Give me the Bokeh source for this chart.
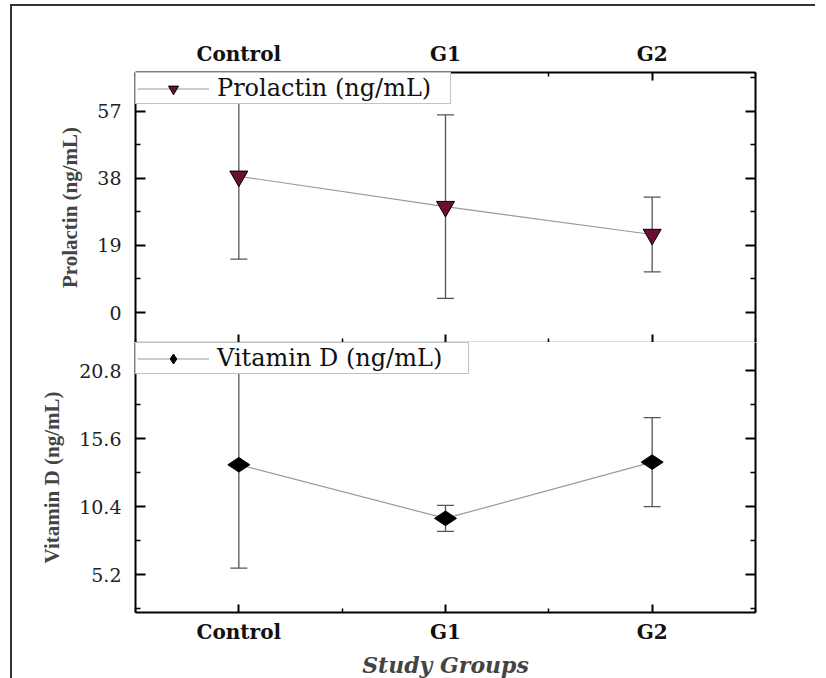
import numpy as np
from bokeh.plotting import figure
from bokeh.models import (ColumnDataSource, FixedTicker, LinearAxis, Range1d,
                          Whisker, TeeHead, Legend, LegendItem)
from bokeh.layouts import column
from bokeh.embed import file_html
from bokeh.resources import INLINE

# ---- data ----
groups = ["Control", "G1", "G2"]
prolactin_mean = [38.6, 30.0, 22.1]
prolactin_sd = [23.5, 26.0, 10.6]
vitd_mean = [13.6, 9.5, 13.8]
vitd_sd = [7.9, 1.0, 3.4]

prl_ticks = [0, 19, 38, 57]
prl_minor = [9.5, 28.5, 47.5, 66.5]
vd_ticks = [5.2, 10.4, 15.6, 20.8]
vd_minor = [2.6, 7.8, 13.0, 18.2]

xpos = list(range(len(groups)))
x_minor = [-0.5, 0.5, 1.5, 2.5]
x_labels = {i: g for i, g in enumerate(groups)}

SERIF = "DejaVu Serif"
TIMES = "Liberation Serif"


def style_axis(ax, line_color="black", line_width=2):
    ax.axis_line_color = line_color
    ax.axis_line_width = line_width
    ax.major_tick_in = 10
    ax.major_tick_out = 0
    ax.minor_tick_in = 5
    ax.minor_tick_out = 0
    ax.major_tick_line_color = "black"
    ax.major_tick_line_width = 2
    ax.minor_tick_line_color = "black"
    ax.minor_tick_line_width = 1.5


def hide_labels(ax, ticks):
    ax.major_label_overrides = {t: "" for t in ticks}
    ax.major_label_text_font_size = "1px"
    ax.major_label_standoff = 0
    ax.axis_label = None


def make_fig(y_start, y_end, top_border, bottom_border):
    p = figure(frame_width=620, frame_height=270,
               x_range=Range1d(-0.5, 2.5), y_range=Range1d(y_start, y_end),
               x_axis_location=None, y_axis_location=None,
               output_backend="svg", toolbar_location=None,
               min_border_left=123, min_border_right=60,
               min_border_top=top_border, min_border_bottom=bottom_border,
               outline_line_color=None, background_fill_color="white",
               border_fill_color="white")
    p.grid.visible = False
    return p


def y_axes(p, ticks, minor, label):
    left = LinearAxis(ticker=FixedTicker(ticks=ticks, minor_ticks=minor))
    style_axis(left)
    left.major_label_text_font = SERIF
    left.major_label_text_font_size = "19px"
    left.major_label_text_color = "#222"
    left.major_label_standoff = 14
    left.axis_label = label
    left.axis_label_text_font = TIMES
    left.axis_label_text_font_style = "bold"
    left.axis_label_text_font_size = "21px"
    left.axis_label_standoff = 12
    p.add_layout(left, "left")
    right = LinearAxis(ticker=FixedTicker(ticks=ticks, minor_ticks=minor))
    style_axis(right)
    hide_labels(right, ticks)
    p.add_layout(right, "right")


def x_axis(labels_visible, line_color="black", line_width=2):
    ax = LinearAxis(ticker=FixedTicker(ticks=xpos, minor_ticks=x_minor))
    style_axis(ax, line_color, line_width)
    ax.minor_tick_in = 4
    ax.major_tick_in = 8
    if labels_visible:
        ax.major_label_overrides = x_labels
        ax.major_label_text_font = SERIF
        ax.major_label_text_font_style = "bold"
        ax.major_label_text_font_size = "20px"
        ax.major_label_text_color = "#111"
        ax.major_label_standoff = 7
    else:
        hide_labels(ax, xpos)
    return ax


def add_series(p, mean, sd, marker, fill, size, angle, label, label_w):
    src = ColumnDataSource(dict(
        x=xpos, mean=mean,
        upper=[m + s for m, s in zip(mean, sd)],
        lower=[m - s for m, s in zip(mean, sd)]))
    w = Whisker(source=src, base="x", upper="upper", lower="lower",
                dimension="height", line_color="#555", line_width=1.3,
                upper_head=TeeHead(size=17, line_color="#555", line_width=1.3),
                lower_head=TeeHead(size=17, line_color="#555", line_width=1.3))
    p.add_layout(w)
    ln = p.line("x", "mean", source=src, line_color="#9a9a9a", line_width=1.2)
    sc = p.scatter("x", "mean", source=src, marker=marker, size=size,
                   angle=angle, fill_color=fill, line_color="black",
                   line_width=1)
    leg = Legend(items=[LegendItem(label=label, renderers=[ln, sc])],
                 location="top_left", margin=0, padding=1, spacing=0,
                 glyph_width=72, glyph_height=25, label_height=25,
                 label_width=label_w,
                 label_standoff=8, label_text_font=SERIF,
                 label_text_font_size="24px", label_text_color="#111",
                 border_line_color="#888", border_line_width=1,
                 background_fill_color="white", background_fill_alpha=1)
    p.add_layout(leg)


# ---- top panel: Prolactin ----
p1 = make_fig(-8.5, 68, 66, 0)
p1.add_layout(x_axis(True), "above")
p1.add_layout(x_axis(False, "#777", 1.5), "below")
y_axes(p1, prl_ticks, prl_minor, "Prolactin (ng/mL)")
add_series(p1, prolactin_mean, prolactin_sd, "inverted_triangle",
           "#6B0D35", 18, 0, "Prolactin (ng/mL)", 232)

# ---- bottom panel: Vitamin D ----
p2 = make_fig(2.3, 22.95, 0, 54)
bx = x_axis(True)
bx.axis_label = "Study Groups"
bx.axis_label_text_font = SERIF
bx.axis_label_text_font_style = "bold italic"
bx.axis_label_text_font_size = "22px"
bx.axis_label_standoff = 5
p2.add_layout(bx, "below")
y_axes(p2, vd_ticks, vd_minor, "Vitamin D (ng/mL)")
add_series(p2, vitd_mean, vitd_sd, "diamond", "black", 22, np.pi / 2,
           "Vitamin D (ng/mL)", 250)

layout = column(p1, p2, styles={"border-top": "2px solid #333",
                                "border-left": "2px solid #333",
                                "margin-top": "4px",
                                "margin-left": "10px"})

open("out.html", "w").write(file_html(layout, INLINE))
